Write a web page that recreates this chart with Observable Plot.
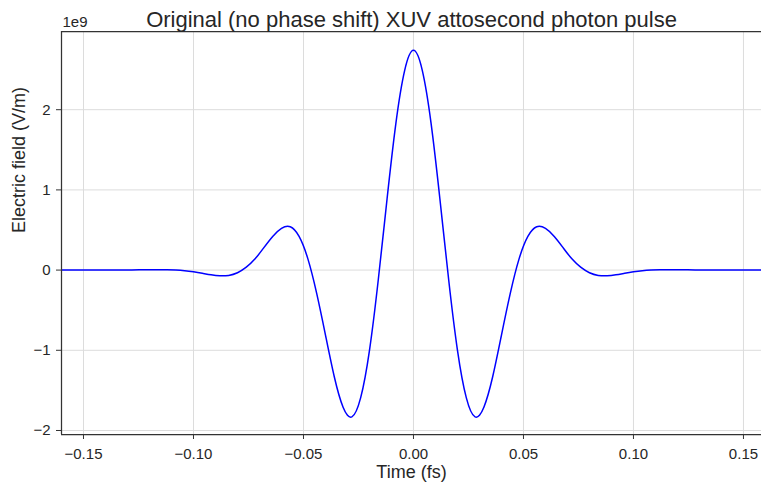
<!DOCTYPE html>
<html><head><meta charset="utf-8">
<script src="https://cdn.jsdelivr.net/npm/d3@7"></script>
<script src="https://cdn.jsdelivr.net/npm/@observablehq/plot@0.6"></script>
<style>body{margin:0;background:#fff}</style>
</head><body><div id="chart"></div>
<script>
const title = "Original (no phase shift) XUV attosecond photon pulse";
const xLabel = "Time (fs)";
const yLabel = "Electric field (V/m)";
const yExponent = "1e9";
const xTicks = [-0.15, -0.10, -0.05, 0.00, 0.05, 0.10, 0.15];
const yTicks = [-2, -1, 0, 1, 2];
const xDomain = [-0.16, 0.1582];
const yDomain = [-2.05, 2.975];

// time (fs)
const times = [
  -0.160, -0.148, -0.136, -0.128, -0.124, -0.120, -0.116, -0.112, -0.108, -0.104,
  -0.100, -0.096, -0.092, -0.088, -0.084, -0.080, -0.076, -0.072, -0.068, -0.064,
  -0.060, -0.056, -0.052, -0.048, -0.044, -0.040, -0.036, -0.032, -0.028, -0.024,
  -0.020, -0.016, -0.012, -0.008, -0.004, 0.000,
  0.004, 0.008, 0.012, 0.016, 0.020, 0.024, 0.028, 0.032, 0.036, 0.040,
  0.044, 0.048, 0.052, 0.056, 0.060, 0.064, 0.068, 0.072, 0.076, 0.080,
  0.084, 0.088, 0.092, 0.096, 0.100, 0.104, 0.108, 0.112, 0.116, 0.120,
  0.124, 0.128, 0.136, 0.148, 0.160
];
// electric field (units of 1e9 V/m)
const field = [
  0.000, 0.000, 0.000, 0.002, 0.003, 0.004, 0.004, 0.003, 0.000, -0.008,
  -0.022, -0.040, -0.059, -0.071, -0.066, -0.033, 0.036, 0.14, 0.28, 0.42,
  0.52, 0.54, 0.42, 0.14, -0.29, -0.81, -1.33, -1.71, -1.83, -1.59,
  -1.00, -0.12, 0.89, 1.83, 2.49, 2.74,
  2.49, 1.83, 0.89, -0.12, -1.00, -1.59, -1.83, -1.71, -1.33, -0.81,
  -0.29, 0.14, 0.42, 0.54, 0.52, 0.42, 0.28, 0.14, 0.036, -0.033,
  -0.066, -0.071, -0.059, -0.040, -0.022, -0.008, 0.000, 0.003, 0.004, 0.004,
  0.003, 0.002, 0.000, 0.000, 0.000
];

const data = times.map((t, i) => ({t, v: field[i]}));
const ink = "#262626";
const spine = "#333333";
const gridColor = "#dcdcdc";

const chart = Plot.plot({
  width: 761,
  height: 482,
  marginTop: 31,
  marginBottom: 48,
  marginLeft: 61,
  marginRight: 0,
  style: {fontFamily: "'Liberation Sans', Arial, sans-serif", background: "#fff", color: ink},
  x: {domain: xDomain},
  y: {domain: yDomain},
  marks: [
    Plot.gridX(xTicks, {stroke: gridColor, strokeOpacity: 1, strokeWidth: 1}),
    Plot.gridY(yTicks, {stroke: gridColor, strokeOpacity: 1, strokeWidth: 1}),
    Plot.line(data, {x: "t", y: "v", stroke: "#0000ff", strokeWidth: 1.5, curve: "natural", clip: true}),
    Plot.ruleX([xDomain[0]], {stroke: spine, strokeWidth: 1.25}),
    Plot.ruleY([yDomain[0]], {stroke: spine, strokeWidth: 1.25}),
    Plot.ruleY([yDomain[1]], {stroke: spine, strokeWidth: 1.25}),
    Plot.axisX(xTicks, {tickFormat: d3.format(".2f"), tickSize: 5, tickPadding: 9, fontSize: 15, stroke: spine, fill: ink, label: null}),
    Plot.axisY(yTicks, {tickFormat: d3.format("d"), tickSize: 5, tickPadding: 6, fontSize: 15, stroke: spine, fill: ink, label: null}),
    Plot.text([title], {frameAnchor: "top", lineAnchor: "middle", dy: -12, fontSize: 22, fill: ink}),
    Plot.text([yExponent], {frameAnchor: "top-left", lineAnchor: "middle", textAnchor: "start", dx: 1, dy: -9, fontSize: 15, fill: ink}),
    Plot.text([xLabel], {frameAnchor: "bottom", lineAnchor: "middle", dy: 38, fontSize: 18, fill: ink}),
    Plot.text([yLabel], {frameAnchor: "left", lineAnchor: "middle", dx: -42.5, rotate: -90, fontSize: 18, fill: ink})
  ]
});
document.getElementById("chart").append(chart);
</script>
</body></html>
